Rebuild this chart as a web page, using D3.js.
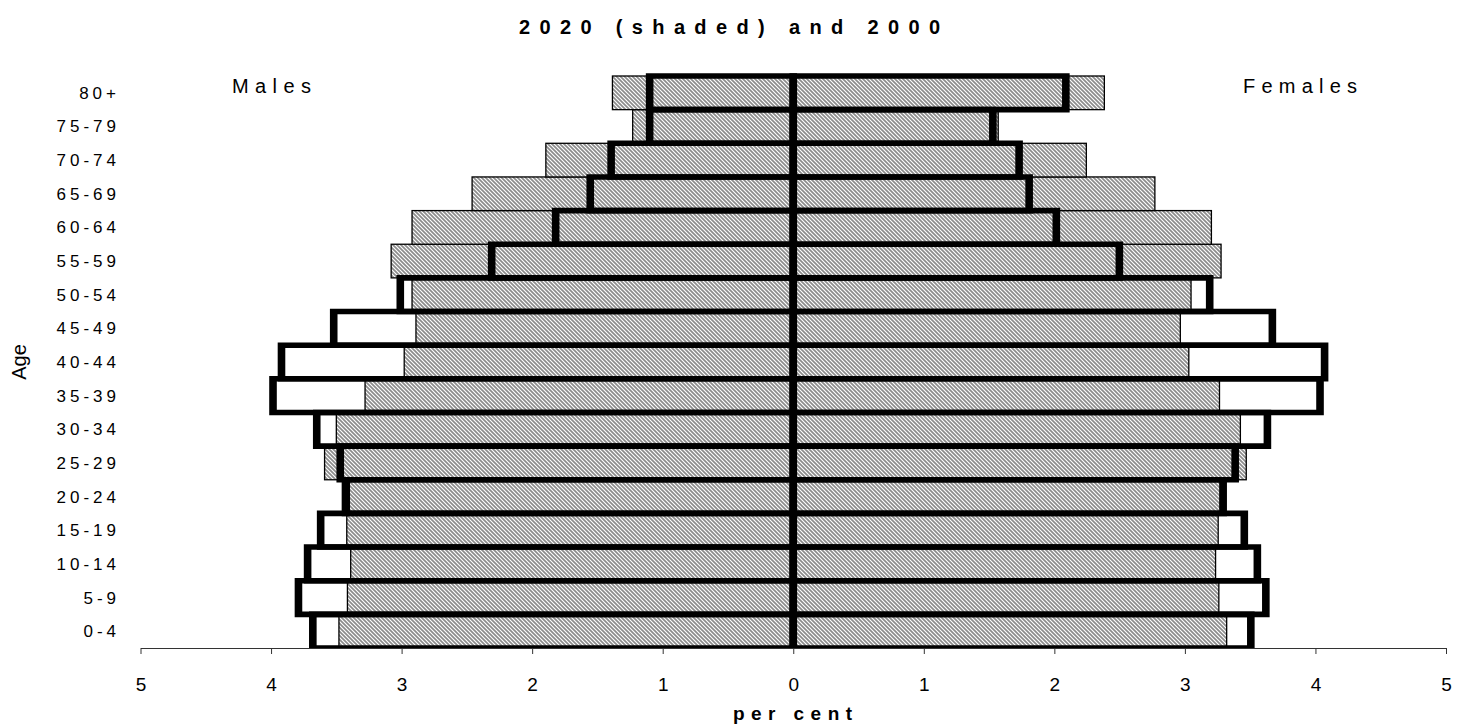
<!DOCTYPE html>
<html>
<head>
<meta charset="utf-8">
<script src="https://cdn.jsdelivr.net/npm/d3@7/dist/d3.min.js"></script>
<style>
  html, body { margin: 0; padding: 0; background: #fff; }
  svg { display: block; font-family: "Liberation Sans", Arial, sans-serif; }
</style>
</head>
<body>
<svg id="chart" width="1467" height="728"></svg>
<script>
// ---- Data (percent of population) ----
const ageGroups = ["0-4","5-9","10-14","15-19","20-24","25-29","30-34","35-39","40-44","45-49","50-54","55-59","60-64","65-69","70-74","75-79","80+"];
const males2020   = [3.48, 3.415, 3.39, 3.42, 3.40, 3.59, 3.50, 3.28, 2.98, 2.89, 2.92, 3.08, 2.92, 2.46, 1.895, 1.23, 1.385];
const males2000   = [3.68, 3.79, 3.72, 3.62, 3.43, 3.47, 3.65, 3.985, 3.92, 3.52, 3.01, 2.31, 1.82, 1.555, 1.395, 1.10, 1.10];
const females2020 = [3.32, 3.26, 3.235, 3.255, 3.27, 3.47, 3.425, 3.265, 3.03, 2.965, 3.047, 3.277, 3.203, 2.77, 2.245, 1.57, 2.383];
const females2000 = [3.505, 3.62, 3.555, 3.455, 3.293, 3.385, 3.632, 4.035, 4.07, 3.67, 3.19, 2.498, 2.015, 1.807, 1.73, 1.529, 2.088];
const xTickValues = [-5,-4,-3,-2,-1,0,1,2,3,4,5];

const titleText = "2020 (shaded) and 2000";
const xAxisTitle = "per cent";
const yAxisTitle = "Age";

// ---- Layout ----
const svg = d3.select("#chart");
const x = d3.scaleLinear().domain([-5, 5]).range([140.5, 1446]);
const y = d3.scaleBand().domain(ageGroups.slice().reverse()).range([76, 648]).padding(0);
const axisY = 648;

const defs = svg.append("defs");
const pat = defs.append("pattern")
  .attr("id", "hatch").attr("patternUnits", "userSpaceOnUse")
  .attr("width", 4).attr("height", 4);
pat.append("rect").attr("width", 4).attr("height", 4).attr("fill", "#ffffff");
pat.append("path")
  .attr("d", "M-1,-1 L5,5 M-1,3 L1,5 M3,-1 L5,1")
  .attr("stroke", "#8c8c8c").attr("stroke-width", 1.7).attr("fill", "none");
defs.append("clipPath").attr("id", "plotclip")
  .append("rect").attr("x", 0).attr("y", 0).attr("width", 1467).attr("height", axisY);

const rows = ageGroups.map((g, i) => ({
  g, m20: males2020[i], m00: males2000[i], f20: females2020[i], f00: females2000[i]
}));

// 2020 shaded bars
const shaded = svg.append("g");
shaded.selectAll("rect.m").data(rows).join("rect")
  .attr("x", d => x(-d.m20)).attr("y", d => y(d.g))
  .attr("width", d => x(0) - x(-d.m20)).attr("height", y.bandwidth())
  .attr("fill", "url(#hatch)").attr("stroke", "#000").attr("stroke-width", 1.3);
shaded.selectAll("rect.f").data(rows).join("rect")
  .attr("x", x(0)).attr("y", d => y(d.g))
  .attr("width", d => x(d.f20) - x(0)).attr("height", y.bandwidth())
  .attr("fill", "url(#hatch)").attr("stroke", "#000").attr("stroke-width", 1.3);

// 2000 outlined bars (thick frame, no fill)
const hw = 3.8, hh = 2.8;
function ring(x0, x1, y0, y1) {
  return `M${x0-hw},${y0-hh}H${x1+hw}V${y1+hh}H${x0-hw}Z` +
         `M${x0+hw},${y0+hh}H${x1-hw}V${y1-hh}H${x0+hw}Z`;
}
const outl = svg.append("g").attr("clip-path", "url(#plotclip)");
outl.selectAll("path.m").data(rows).join("path")
  .attr("d", d => ring(x(-d.m00), x(0), y(d.g), y(d.g) + y.bandwidth()))
  .attr("fill", "#000").attr("fill-rule", "evenodd");
outl.selectAll("path.f").data(rows).join("path")
  .attr("d", d => ring(x(0), x(d.f00), y(d.g), y(d.g) + y.bandwidth()))
  .attr("fill", "#000").attr("fill-rule", "evenodd");

// x axis
const xAxis = d3.axisBottom(x).tickValues(xTickValues)
  .tickFormat(d => Math.abs(d)).tickSize(6).tickSizeOuter(0).tickPadding(23.5);
const gx = svg.append("g").attr("transform", `translate(0,${axisY})`).call(xAxis);
gx.select(".domain").attr("stroke", "#333").attr("stroke-width", 1);
gx.selectAll(".tick line").attr("stroke", "#333");
gx.selectAll(".tick text").attr("font-size", 19).attr("fill", "#000")
  .attr("font-family", "Liberation Sans, Arial, sans-serif");

// y labels
svg.append("g").selectAll("text").data(ageGroups).join("text")
  .attr("x", 120).attr("y", d => y(d) + y.bandwidth() / 2 + 6)
  .attr("text-anchor", "end").attr("font-size", 17).attr("letter-spacing", "4px")
  .attr("fill", "#000").text(d => d);

// titles
svg.append("text").attr("x", 519).attr("y", 34)
  .attr("font-size", 20).attr("font-weight", "bold")
  .attr("textLength", 421).attr("lengthAdjust", "spacing").text(titleText);

svg.append("text").attr("x", 733).attr("y", 720)
  .attr("font-size", 19).attr("font-weight", "bold")
  .attr("textLength", 119).attr("lengthAdjust", "spacing").text(xAxisTitle);

svg.append("text").attr("transform", "translate(26,362) rotate(-90)")
  .attr("text-anchor", "middle").attr("font-size", 20).text(yAxisTitle);

svg.append("text").attr("x", 232).attr("y", 93)
  .attr("font-size", 20).attr("textLength", 79).attr("lengthAdjust", "spacing").text("Males");
svg.append("text").attr("x", 1243).attr("y", 93)
  .attr("font-size", 20).attr("textLength", 114).attr("lengthAdjust", "spacing").text("Females");
</script>
</body>
</html>
